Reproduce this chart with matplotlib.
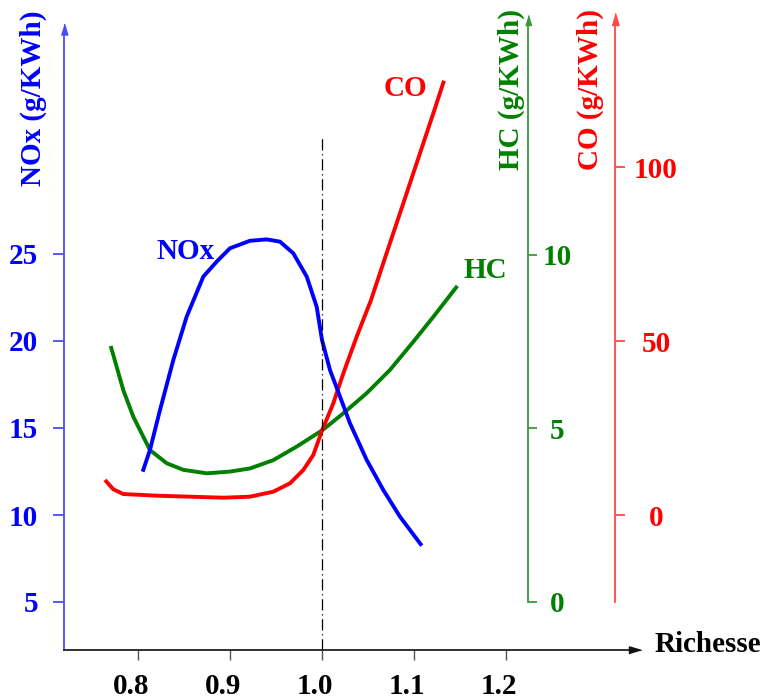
import matplotlib
matplotlib.use("Agg")
import matplotlib.pyplot as plt
import matplotlib.transforms as mtransforms

# ---------------- data ----------------
nox_x = [0.8051, 0.8130, 0.8239, 0.8384, 0.8529, 0.8710, 0.8855, 0.9000, 0.9217,
         0.9399, 0.9543, 0.9688, 0.9834, 0.9942, 1.0000, 1.0087, 1.0196, 1.0304,
         1.0486, 1.0666, 1.0848, 1.1084]
nox_y = [12.49, 13.74, 16.03, 18.91, 21.40, 23.70, 24.56, 25.33, 25.76,
         25.84, 25.71, 25.04, 23.70, 21.97, 20.06, 18.33, 16.80, 15.27,
         13.16, 11.44, 9.90, 8.24]

hc_x = [0.7703, 0.7768, 0.7840, 0.7949, 0.8130, 0.8312, 0.8492, 0.8747,
        0.9000, 0.9217, 0.9471, 0.9725, 1.0003, 1.0232, 1.0486, 1.0739, 1.0992,
        1.1210, 1.1471]
hc_y = [7.37, 6.77, 6.10, 5.33, 4.37, 3.99, 3.80, 3.70,
        3.75, 3.84, 4.08, 4.47, 4.94, 5.43, 6.01, 6.68, 7.49,
        8.21, 9.10]

co_x = [0.7641, 0.7732, 0.7840, 0.8203, 0.8565, 0.8927, 0.9217, 0.9471, 0.9652,
        0.9797, 0.9905, 1.0003, 1.0123, 1.0232, 1.0377, 1.0533, 1.0703, 1.0884,
        1.1065, 1.1210, 1.1326]
co_y = [10.06, 7.39, 6.03, 5.55, 5.26, 4.97, 5.26, 6.70, 9.11,
        12.93, 17.24, 24.43, 32.10, 40.72, 51.24, 61.78, 75.30, 89.60,
        103.94, 115.43, 124.80]

x_ticks = [0.8, 0.9, 1.0, 1.1, 1.2]
x_ticklabels = ["0.8", "0.9", "1.0", "1.1", "1.2"]
nox_ticks = [5, 10, 15, 20, 25]
hc_ticks = [0, 5, 10]
co_ticks = [0, 50, 100]
stoich_x = 1.0

# ---------------- style ----------------
plt.rcParams["font.family"] = ["Liberation Serif", "DejaVu Serif"]
plt.rcParams["font.weight"] = "bold"
plt.rcParams["font.size"] = 21

BLUE = "#0000ff"
GREEN = "#008000"
RED = "#ff0000"
BLUE_SP = "#4a4aff"
GREEN_SP = "#3a9a3a"
RED_SP = "#ff4a4a"

W, H = 769, 699
fig = plt.figure(figsize=(W / 100, H / 100), dpi=100)
L, R, B, T = 63.5, 641.0, 650.0, 13.0
ax = fig.add_axes([L / W, 1 - B / H, (R - L) / W, (B - T) / H])


def fx(px):
    return (px - L) / (R - L)


def fy(py):
    return (B - py) / (B - T)


PT = 0.72  # points per pixel at 100 dpi
LW = 2.8

# main axis: richesse / NOx
ax.set_xlim(1 + (L - 322) / 920, 1 + (R - 322) / 920)
ax.set_ylim(10 + (515 - B) / 17.4, 10 + (515 - T) / 17.4)

ax_hc = ax.twinx()
ax_hc.set_ylim((601.7 - B) / 34.7, (601.7 - T) / 34.7)
ax_co = ax.twinx()
ax_co.set_ylim((515 - B) / 3.48, (515 - T) / 3.48)

ax_hc.set_zorder(1)
ax_co.set_zorder(2)
ax.set_zorder(3)
ax.patch.set_visible(False)

for a in (ax, ax_hc, ax_co):
    for s in a.spines.values():
        s.set_visible(False)

# curves
ax_hc.plot(hc_x, hc_y, color=GREEN, lw=LW, solid_capstyle="butt", solid_joinstyle="round")
ax_co.plot(co_x, co_y, color=RED, lw=LW, solid_capstyle="butt", solid_joinstyle="round")
ax.plot(nox_x, nox_y, color=BLUE, lw=LW, solid_capstyle="butt", solid_joinstyle="round")

# stoichiometric dash-dot line
ax.axvline(stoich_x, ymin=0, ymax=fy(138), color="black", lw=0.9,
           linestyle=(0, (9, 3, 1, 3)))

# left spine (NOx)
ax.spines["left"].set_visible(True)
ax.spines["left"].set_color(BLUE_SP)
ax.spines["left"].set_linewidth(1.3)
ax.spines["left"].set_bounds(ax.get_ylim()[0], 10 + (515 - 30) / 17.4)
ax.set_yticks(nox_ticks)
ax.tick_params(axis="y", direction="out", length=11 * PT, width=1.3,
               color=BLUE_SP, labelcolor=BLUE, pad=14.5 * PT, labelsize=21)

# bottom spine (richesse)
ax.spines["bottom"].set_visible(True)
ax.spines["bottom"].set_color("#222222")
ax.spines["bottom"].set_linewidth(1.3)
ax.spines["bottom"].set_bounds(ax.get_xlim()[0], 1 + (630 - 322) / 920)
ax.set_xticks(x_ticks)
ax.set_xticklabels(x_ticklabels)
ax.tick_params(axis="x", direction="out", length=10 * PT, width=1.0,
               color="#555555", labelcolor="black", pad=13 * PT, labelsize=21)
offset = mtransforms.ScaledTranslation(-7 / 100, 0, fig.dpi_scale_trans)
for lab in ax.get_xticklabels():
    lab.set_transform(lab.get_transform() + offset)

# HC spine
sp = ax_hc.spines["right"]
sp.set_visible(True)
sp.set_position(("axes", fx(527.7)))
sp.set_color(GREEN_SP)
sp.set_linewidth(1.3)
sp.set_bounds(0, (601.7 - 24) / 34.7)
ax_hc.set_yticks(hc_ticks)
ax_hc.tick_params(axis="y", direction="out", length=9 * PT, width=1.3,
                  color=GREEN_SP, labelcolor=GREEN, pad=20.3 * PT, labelsize=21)
for lab in ax_hc.get_yticklabels():
    lab.set_horizontalalignment("center")

# CO spine
sp = ax_co.spines["right"]
sp.set_visible(True)
sp.set_position(("axes", fx(615)))
sp.set_color(RED_SP)
sp.set_linewidth(1.3)
sp.set_bounds((515 - 602) / 3.48, (515 - 24) / 3.48)
ax_co.set_yticks(co_ticks)
ax_co.tick_params(axis="y", direction="out", length=10 * PT, width=1.3,
                  color=RED_SP, labelcolor=RED, pad=31 * PT, labelsize=21)
for lab in ax_co.get_yticklabels():
    lab.set_horizontalalignment("center")

# arrow heads
up = [(-0.6, -1), (0.6, -1), (0, 1)]
right = [(-1, -0.6), (-1, 0.6), (1, 0)]
ax.plot([fx(63.5)], [fy(28.5)], marker=up, ms=11 * PT, color=BLUE_SP,
        transform=ax.transAxes, clip_on=False, zorder=5)
ax.plot([fx(527.7)], [fy(20)], marker=up, ms=10 * PT, color=GREEN_SP,
        transform=ax.transAxes, clip_on=False, zorder=5)
ax.plot([fx(615)], [fy(19)], marker=up, ms=12 * PT, color=RED_SP,
        transform=ax.transAxes, clip_on=False, zorder=5)
ax.plot([fx(635)], [fy(650)], marker=right, ms=12 * PT, color="#111111",
        transform=ax.transAxes, clip_on=False, zorder=5)

# axis titles
fig.text(33 / W, 1 - 98 / H, "NOx (g/KWh)", rotation=90, color=BLUE,
         ha="center", va="center", fontsize=21)
fig.text(511 / W, 1 - 90 / H, "HC (g/KWh)", rotation=90, color=GREEN,
         ha="center", va="center", fontsize=21)
fig.text(590 / W, 1 - 90 / H, "CO (g/KWh)", rotation=90, color=RED,
         ha="center", va="center", fontsize=21)
fig.text(655 / W, 1 - 645 / H, "Richesse", color="black",
         ha="left", va="center", fontsize=21)

# curve labels
fig.text(185.5 / W, 1 - 251.5 / H, "NOx", color=BLUE, ha="center", va="center", fontsize=21)
fig.text(405 / W, 1 - 88 / H, "CO", color=RED, ha="center", va="center", fontsize=21)
fig.text(485 / W, 1 - 271 / H, "HC", color=GREEN, ha="center", va="center", fontsize=21)

fig.savefig("out.png", dpi=100, facecolor="white")
